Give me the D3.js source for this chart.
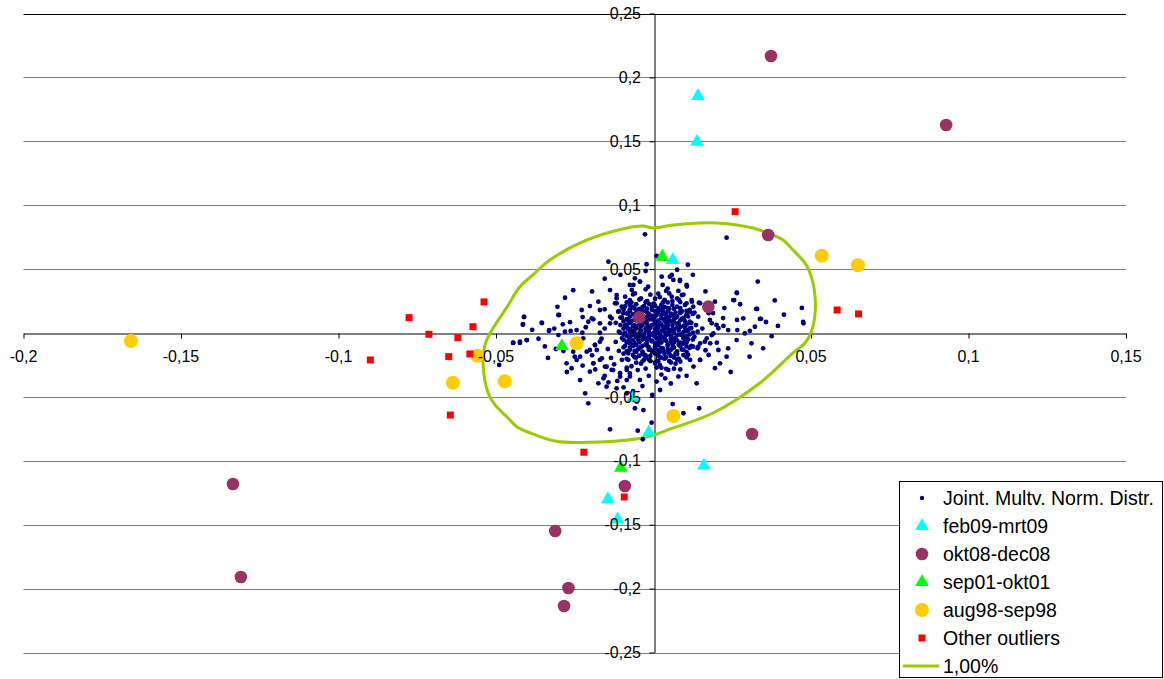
<!DOCTYPE html>
<meta charset="utf-8">
<style>
    body { margin: 0; background: #fff; }
    text { font-family: Arial, "Liberation Sans", sans-serif; font-size: 16px; fill: #000; }
    .legend text { font-size: 19.5px; }
</style>
<body>
<svg></svg>
<script src="https://d3js.org/d3.v7.min.js"></script>
<script>
    // axis ticks
    var xTicks = [-0.2, -0.15, -0.1, -0.05, 0, 0.05, 0.1, 0.15];
    var yTicks = [-0.25, -0.2, -0.15, -0.1, -0.05, 0, 0.05, 0.1, 0.15, 0.2, 0.25];

    var seriesNames = ["Joint. Multv. Norm. Distr.", "feb09-mrt09", "okt08-dec08", "sep01-okt01", "aug98-sep98", "Other outliers", "1,00%"];

    // simulated joint normal points
    var jointNormal = [
        [-0.0027,0.0772],[0.0232,0.0746],[0.001,0.0603],[-0.0022,0.0538],[-0.0143,0.0558],[0.0109,0.0534],[0.0034,0.0582],
        [-0.0138,0.0336],[-0.0064,0.0376],[-0.0043,0.0402],[-0.0017,0.0362],[0.0029,0.0376],[0.0052,0.0441],[0.0063,0.0415],
        [0.0084,0.0407],[0.0105,0.0376],[0.0079,0.0329],[0.004,0.0329],[0.0058,0.0284],[0.009,0.0297],[0.0121,0.0258],
        [0.0144,0.0237],[0.0126,0.0206],[0.0116,0.0167],[0.0331,0.0402],[0.0264,0.0315],[0.0253,0.0258],[0.0326,0.0188],
        [0.0414,0.0143],[0.0471,0.0196],[0.0338,0.011],[0.0476,0.0076],[-0.0281,0.0276],[-0.0202,0.0211],[-0.0228,0.018],
        [-0.0302,0.0141],[-0.0355,0.0081],[-0.0411,0.0128],[-0.0415,0.0065],[-0.0331,0.0023],[-0.0244,0.0023],[-0.0263,0.0016],
        [-0.0207,0.0088],[-0.0191,0.0107],[-0.017,0.018],[-0.0138,0.0076],[-0.0117,0.0232],[-0.0096,0.0193],[-0.0075,0.0258],
        [-0.0059,0.031],[-0.0117,0.0297],[-0.0112,0.0167],[-0.0133,0.0115],
        [0.0185,0.0076],[0.0206,0.0037],[0.0222,0.0055],[0.0237,0.0023],[0.0266,0.0023],[0.029,-0.0003],[0.0306,0.0016],
        [0.0322,0.0049],[0.019,-0.0003],[0.0201,-0.0076],[0.018,-0.0081],[0.0169,-0.0042],[0.0148,-0.0081],[0.0126,-0.0107],
        [0.0237,-0.012],[0.0264,-0.0055],[0.0311,-0.0081],[0.0348,-0.012],[0.0232,-0.0185],[0.0211,-0.0237],[0.0148,-0.0211],
        [0.0137,-0.0394],[0.0145,-0.0589],[0.0095,-0.0628],[0.0061,-0.0556],[0.0021,-0.0446],[-0.0004,-0.0485],[-0.0006,-0.0702],
        [-0.005,-0.0764],[-0.0138,-0.0754],[-0.0034,-0.0832],[-0.0207,-0.055],[-0.0217,-0.0472],[-0.0175,-0.0394],[-0.0143,-0.0386],
        [-0.0117,-0.0433],[-0.0085,-0.0472],[-0.0059,-0.0589],[-0.0032,-0.0603],[-0.0053,-0.0537],[-0.0085,-0.0368],[-0.0075,-0.0316],
        [-0.0106,-0.0342],[-0.0128,-0.029],[-0.0149,-0.0264],[-0.017,-0.0211],[-0.0191,-0.0237],[-0.0202,-0.0303],[-0.0233,-0.0185],
        [-0.0244,-0.0211],[-0.026,-0.0276],[-0.0276,-0.0237],[-0.0233,-0.0368],
        [-0.0445,-0.0076],[-0.0424,-0.0068],[-0.0403,-0.0055],[-0.0286,-0.0141],[-0.0302,-0.0016],[-0.0281,0.001],[-0.0223,-0.0042],
        [-0.0186,-0.0094],[-0.017,-0.0068],[-0.0255,-0.0146],[-0.025,-0.0185],[-0.0212,-0.0146],[-0.0202,-0.0133],
        [-0.0411,0.0125],[-0.0414,0.007],[-0.0354,0.0078],[-0.0332,0.0016],[-0.03,0.0141],[-0.0446,-0.0078],[-0.0424,-0.0078],
        [-0.0402,-0.0055],[-0.031,-0.0125],[-0.049,-0.025],[-0.0226,0.0002],[-0.017,0.0002],[-0.0288,0.0068],
        [0.0265,0.0313],[0.0256,0.0258],[0.0329,0.0188],[0.0341,0.011],[0.0357,0.0086],[0.0475,0.0086],[0.0265,0.0102],
        [0.0221,0.0117],[0.0189,0.0156],
        [-0.0043,0.0402],[0.0026,0.0441],[0.0058,0.0454],[0.0084,0.0415],[0.0106,0.0363],[0.0122,0.0245],[0.0148,0.0232],
        [0.0142,0.0128],[0.0179,0.0102],[0.02,0.0063],[0.0185,-0.0016],[0.0163,-0.0068],[0.0206,-0.0133],[0.0175,-0.0172],
        [0.0148,-0.0211],[0.0116,-0.0211],[0.0127,-0.0263],[0.0142,-0.0107],[0.0079,-0.0341],[0.0047,-0.0289],[0.0037,-0.0355],
        [0.001,-0.038],[-0.0043,-0.0367],[-0.0075,-0.0341],[-0.0085,-0.0289],[-0.0106,-0.0315],[-0.0133,-0.0289],[-0.0154,-0.0263],
        [-0.0164,-0.0198],[-0.018,-0.0133],[-0.0186,-0.0094],[-0.0191,-0.0237],[-0.0159,-0.0355],[-0.0149,-0.042],[-0.0196,0.0115],
        [-0.017,0.0076],[-0.0138,0.0128],[-0.0122,0.0232],[-0.0117,0.0271],[-0.009,0.0284],[-0.0069,0.0337],[-0.0075,0.0376],
        [-0.0101,0.0206],[-0.0096,0.0154],[-0.0059,0.0428],
        [-0.009,0.021],[-0.007,0.024],[-0.004,0.027],[-0.001,0.03],[0.002,0.028],[0.005,0.031],[0.008,0.026],[0.01,0.022],
        [-0.01,0.012],[-0.008,0.016],[-0.006,0.019],[-0.003,0.021],[0,0.023],[0.003,0.02],[0.006,0.022],[0.009,0.017],[0.011,0.013],
        [-0.009,0.006],[-0.007,0.009],[-0.005,0.013],[-0.002,0.016],[0.001,0.017],[0.004,0.014],[0.007,0.016],[0.01,0.009],[0.012,0.004],
        [-0.011,0.001],[-0.008,0.003],[-0.006,0.006],[-0.003,0.009],[0,0.011],[0.002,0.008],[0.005,0.01],[0.008,0.007],[0.011,0.002],
        [-0.01,-0.004],[-0.007,-0.002],[-0.004,0.002],[-0.001,0.004],[0.001,0.002],[0.003,0.005],[0.006,0.003],[0.009,-0.001],[0.013,-0.003],
        [-0.009,-0.01],[-0.006,-0.008],[-0.003,-0.004],[0,-0.002],[0.002,-0.005],[0.004,-0.001],[0.007,-0.004],[0.01,-0.007],
        [-0.008,-0.016],[-0.005,-0.013],[-0.002,-0.01],[0.001,-0.008],[0.003,-0.012],[0.006,-0.009],[0.009,-0.013],[0.012,-0.01],
        [-0.01,-0.021],[-0.006,-0.019],[-0.003,-0.017],[0,-0.015],[0.002,-0.019],[0.005,-0.016],[0.008,-0.02],[0.011,-0.017],
        [-0.007,-0.026],[-0.004,-0.024],[-0.001,-0.022],[0.002,-0.025],[0.004,-0.028],[0.007,-0.024],
        [-0.005,0.017],[-0.002,0.019],[0.001,0.014],[0.003,0.017],[0.005,0.019],[-0.004,0.005],[-0.002,0.007],[0.001,0.006],
        [0.004,0.008],[0.006,0.006],[-0.006,0],[-0.003,-0.001],[0,0],[0.002,-0.001],[0.005,0.001],[0.008,0.002],[-0.005,-0.005],
        [-0.002,-0.007],[0.001,-0.004],[0.004,-0.006],[0.006,-0.012],[-0.004,-0.011],[-0.001,-0.013],[0.002,-0.015],[0.004,-0.019],
        [-0.006,-0.014],[-0.008,-0.006],[-0.009,0],[0.007,0.012],[0.009,0.011],[0.006,0.025],[0.003,0.024],[-0.002,0.025],
        [-0.006,0.011],[-0.008,0.01],[0.01,0.004],[0.011,-0.005],[0.008,-0.009],[0.007,-0.016],[-0.001,-0.018],[-0.003,-0.021],
        [0.001,-0.027],[-0.005,-0.029],[0.005,-0.022],[-0.008,-0.021],[0.012,0.008],[0.013,0.016],[0.014,0.001],[0.014,-0.012],
        [-0.012,0.008],[-0.012,-0.007],[-0.011,-0.014],[-0.011,0.017],
        [-0.0055,0.0035],[-0.0035,0.0065],[-0.0015,0.0025],[0.0005,0.0085],[0.0025,0.0115],[0.0045,0.0035],[0.0065,0.0085],
        [-0.0045,-0.0025],[-0.0025,-0.0045],[-0.0005,-0.0065],[0.0015,-0.0095],[0.0035,-0.0035],[0.0055,-0.0065],[0.0075,-0.0015],
        [-0.0065,0.0145],[-0.0045,0.0105],[-0.0025,0.0125],[-0.0005,0.0135],[0.0015,0.0195],[0.0035,0.0095],[0.0055,0.0135],
        [0.0075,0.0045],[0.0095,0.0055],[-0.0075,-0.0115],[-0.0055,-0.0095],[-0.0035,-0.0145],[-0.0015,-0.0025],[0.0005,-0.0115],
        [0.0025,-0.0075],[0.0045,-0.0135],[0.0065,-0.0045],[0.0085,-0.0075],[-0.0065,0.0055],[-0.0085,0.0065],[0.0015,0.0045],
        [-0.0015,0.0105],[0.0035,0.0155],[-0.0035,0.0175],[0.0005,0.0215],[-0.0055,0.0225],[0.0025,-0.0135],[-0.0025,-0.0175],
        [0.0045,0.0195],[0.0085,0.0195],[0.0105,0.0145],[-0.0095,0.0035],[0.0095,-0.0035],[0.0105,-0.0105],[-0.0075,0.0185],
        [0.0065,-0.0185],
        [-0.0045,0.0262],[0.0005,0.0268],[0.0035,0.0259],[0.0075,0.0271],[-0.0075,0.0221],[-0.0015,0.0228],[0.0025,0.0219],
        [0.0105,0.0232],[-0.0095,0.0182],[-0.0045,0.0189],[-0.0005,0.0181],[0.0025,0.0178],[0.0065,0.0188],[0.0115,0.0181],
        [-0.0085,0.0152],[-0.0055,0.0158],[-0.0015,0.0149],[0.0015,0.0161],[0.0055,0.0152],[0.0085,0.0156],[0.0125,0.0149],
        [-0.0105,0.0121],[-0.0075,0.0128],[-0.0035,0.0119],[0.0005,0.0127],[0.0045,0.0122],[0.0075,0.0129],[0.0095,0.0118],
        [-0.0095,0.0092],[-0.0055,0.0098],[-0.0025,0.0089],[0.0015,0.0096],[0.0055,0.0091],[0.0085,0.0099],[0.0115,0.0088],
        [-0.0105,0.0062],[-0.0045,0.0068],[-0.0005,0.0061],[0.0025,0.0067],[0.0045,0.0059],[0.0105,0.0066],[0.0135,0.0062],
        [-0.0075,0.0032],[-0.0025,0.0038],[0.0005,0.0031],[0.0035,0.0037],[0.0065,0.0029],[0.0115,0.0036],
        [-0.0105,0.0002],[-0.0075,0.0008],[-0.0045,-0.0001],[-0.0015,0.0007],[0.0015,0.0001],[0.0035,0.0009],[0.0065,-0.0002],
        [0.0095,0.0006],[0.0125,0.0003],[-0.0085,-0.0022],[-0.0055,-0.0028],[0.0005,-0.0021],[0.0025,-0.0029],[0.0055,-0.0024],
        [0.0105,-0.0027],[-0.0095,-0.0052],[-0.0065,-0.0058],[-0.0035,-0.0051],[-0.0005,-0.0059],[0.0035,-0.0053],[0.0075,-0.0057],
        [0.0125,-0.0051],[-0.0075,-0.0082],[-0.0025,-0.0088],[0.0005,-0.0081],[0.0045,-0.0089],[0.0095,-0.0083],
        [-0.0095,-0.0112],[-0.0045,-0.0118],[-0.0015,-0.0111],[0.0025,-0.0119],[0.0065,-0.0113],[0.0115,-0.0117],
        [-0.0085,-0.0142],[-0.0055,-0.0148],[-0.0005,-0.0141],[0.0035,-0.0149],[0.0075,-0.0143],[0.0105,-0.0147],
        [-0.0065,-0.0172],[-0.0045,-0.0178],[0.0015,-0.0171],[0.0055,-0.0179],[0.0095,-0.0173],
        [-0.0085,-0.0202],[-0.0015,-0.0208],[0.0035,-0.0201],[0.0075,-0.0209],[-0.0055,-0.0232],[0.0005,-0.0238],[0.0055,-0.0231],
        [-0.0085,-0.0272],[-0.0025,-0.0278],[0.0025,-0.0271],[0.0065,-0.0279],[-0.0065,0.0302],[0.0015,0.0308],[0.0095,0.0301],
        [-0.0025,0.0342],[0.0045,0.0348],
        [-0.0215,0.0045],[-0.0245,-0.0075],[-0.0195,-0.0175],[-0.0165,-0.0045],[-0.0155,0.0035],[-0.0145,-0.0125],[-0.0225,0.0125],
        [-0.0265,0.0085],[-0.0175,0.0245],[-0.0155,0.0185],[-0.0135,-0.0195],[-0.0125,-0.0245],[-0.0185,-0.0285],[-0.0225,-0.0255],
        [-0.0155,-0.0335],[-0.0115,-0.0375],[-0.0095,-0.0425],[-0.0065,-0.0455],[-0.0035,-0.0415],[-0.0015,-0.0335],[0.0025,-0.0325],
        [0.0055,-0.0395],[0.0085,-0.0285],[0.0105,-0.0335],[-0.0335,-0.0195],[-0.0365,-0.0045],[-0.0305,0.0205],[-0.0255,0.0335],
        [-0.0195,0.0325],[-0.0155,0.0425],[-0.0105,0.0455],[-0.0025,0.0485],[0.0075,0.0495],[0.0125,0.0455],[0.0165,0.0325],
        [0.0195,0.0245],[0.0225,0.0195],[0.0175,0.0155],[0.0155,0.0035],[0.0165,-0.0135],[0.0195,-0.0275],[0.0245,-0.0305],
        [0.0285,0.0115],[0.0305,-0.0185],[0.0375,-0.0025],[0.0395,0.0055],[0.0275,0.0225],[0.0385,0.0255],[-0.0385,0.0025],
        [-0.0345,-0.0105],[-0.0275,-0.0305],[-0.0315,0.0035],
        [-0.0065,0.0205],[-0.0035,0.0203],[-0.0005,0.0207],[0.0035,0.0204],[0.0075,0.0206],[-0.0075,0.017],[-0.0025,0.0172],
        [0.0005,0.0168],[0.0045,0.0171],[0.0085,0.0169],[0.0105,0.0172],[-0.0045,0.0138],[-0.0015,0.0136],[0.0025,0.0139],
        [0.0065,0.0137],[0.0105,0.0139],[-0.0085,0.0108],[-0.0005,0.0106],[0.0035,0.0109],[0.0065,0.0107],[0.0095,0.0108],
        [-0.0075,0.0078],[-0.0035,0.0077],[0.0005,0.0079],[0.0045,0.0078],[0.0075,0.0076],[0.0115,0.0079],[-0.0085,0.0048],
        [-0.0055,0.0047],[-0.0015,0.0049],[0.0035,0.0048],[0.0085,0.0046],[-0.0065,0.0018],[-0.0025,0.0017],[0.0025,0.0019],
        [0.0055,0.0018],[0.0105,0.0016],[-0.0095,-0.0012],[-0.0035,-0.0013],[-0.0005,-0.0011],[0.0045,-0.0012],[0.0085,-0.0013],
        [0.0115,-0.0011],[-0.0075,-0.0042],[-0.0015,-0.0043],[0.0015,-0.0041],[0.0055,-0.0042],[0.0095,-0.0044],[-0.0085,-0.0072],
        [-0.0045,-0.0073],[0.0015,-0.0071],[0.0065,-0.0072],[0.0105,-0.0074],[-0.0065,-0.0102],[-0.0035,-0.0101],[0.0005,-0.0103],
        [0.0045,-0.0102],[0.0085,-0.0104],[-0.0075,-0.0132],[-0.0015,-0.0131],[0.0015,-0.0133],[0.0055,-0.0132],[0.0095,-0.0131],
        [-0.0095,-0.0162],[-0.0035,-0.0163],[0.0005,-0.0161],[0.0035,-0.0162],[0.0075,-0.0164],[-0.0055,-0.0192],[-0.0025,-0.0191],
        [0.0025,-0.0193],[0.0065,-0.0192],[0.0105,-0.0191],[-0.0035,-0.0222],[0.0015,-0.0221],[0.0085,-0.0223],[-0.0085,0.024],
        [-0.0025,0.0241],[0.0045,0.0239],[0.0085,0.0242]
    ];

    var feb09mrt09 = [[0.0141,0.1854],[0.0138,0.1495],[0.0061,0.0571],[-0.0065,-0.0509],[-0.0015,-0.078],
        [0.016,-0.1038],[-0.0145,-0.1301],[-0.0114,-0.1458]];
    var okt08dec08 = [[0.0373,0.2167],[0.0929,0.1628],[0.0364,0.0767],[0.0174,0.0206],[-0.0045,0.0123],[0.0313,-0.079],
        [-0.0091,-0.1197],[-0.0312,-0.1549],[-0.027,-0.1995],[-0.0284,-0.2136],[-0.1335,-0.1182],[-0.131,-0.1909]];
    var sep01okt01 = [[0.0028,0.0597],[-0.0291,-0.0102],[-0.0104,-0.1054]];
    var aug98sep98 = [[-0.1659,-0.0063],[-0.0637,-0.0389],[-0.0472,-0.0378],[-0.0559,-0.0178],[-0.0244,-0.0081],
        [0.0063,-0.0649],[0.0534,0.0605],[0.0649,0.053]];
    var otherOutliers = [[0.0259,0.0949],[-0.0538,0.0243],[-0.0776,0.012],[-0.0573,0.0049],[-0.0713,-0.001],[-0.0621,-0.0037],
        [-0.0899,-0.0211],[-0.065,-0.0185],[-0.0583,-0.0164],[-0.0645,-0.0642],[-0.0221,-0.0933],[-0.0093,-0.1283],
        [0.0583,0.018],[0.0651,0.0149]];

    // 1% contour
    var contour1pct = [[-0.0541,-0.0235],[-0.0535,-0.0094],[-0.0513,0.0023],[-0.0465,0.0203],[-0.0425,0.036],[-0.0383,0.0454],
        [-0.0329,0.0571],[-0.0211,0.0728],[-0.0084,0.0822],[-0.0033,0.0837],[-0.0002,0.0822],[0.0062,0.0845],[0.0148,0.0861],
        [0.0202,0.0861],[0.0316,0.0822],[0.0363,0.0782],[0.0411,0.0728],[0.0443,0.0649],[0.0487,0.0524],[0.0513,0.0282],
        [0.0503,0.0023],[0.0481,-0.0078],[0.0443,-0.0156],[0.0338,-0.0391],[0.0189,-0.0626],[0.0062,-0.0743],[-0.0021,-0.0814],
        [-0.017,-0.0853],[-0.0313,-0.0845],[-0.0383,-0.079],[-0.0433,-0.0736],[-0.0465,-0.0657],[-0.0503,-0.0563],[-0.0525,-0.0469]];

    var width = 1164, height = 679;

    var svg = d3.select("svg")
        .attr("width", width)
        .attr("height", height);

    var x = d3.scaleLinear().domain([-0.2, 0.15]).range([23.5, 1126]);
    var y = d3.scaleLinear().domain([-0.25, 0.25]).range([652.5, 13.5]);

    var fmt = function (d) { return String(d).replace(".", ","); };
    var snap = function (v) { return Math.round(v) + 0.5; };

    // gridlines
    svg.append("g")
        .selectAll("line")
        .data(yTicks.filter(function (d) { return d !== 0; }))
        .enter().append("line")
        .attr("x1", x(-0.2)).attr("x2", x(0.15))
        .attr("y1", function (d) { return snap(y(d)); })
        .attr("y2", function (d) { return snap(y(d)); })
        .style("stroke", function (d) { return d === 0.25 ? "#000" : "#808080"; });

    // axis lines and ticks (labels are drawn after the marks)
    var xAxis = svg.append("g")
        .attr("transform", "translate(0," + snap(y(0)) + ")")
        .call(d3.axisBottom(x).tickValues(xTicks).tickSize(5).tickSizeOuter(0).tickFormat(""));
    var yAxis = svg.append("g")
        .attr("transform", "translate(" + snap(x(0)) + ",0)")
        .call(d3.axisLeft(y).tickValues(yTicks).tickSize(5).tickSizeOuter(0).tickFormat(""));
    [xAxis, yAxis].forEach(function (g) {
        g.selectAll("path, line").style("stroke", "#000");
    });

    // contour line
    svg.append("path")
        .datum(contour1pct)
        .attr("d", d3.line()
            .x(function (d) { return x(d[0]); })
            .y(function (d) { return y(d[1]); })
            .curve(d3.curveCatmullRomClosed))
        .style("fill", "none")
        .style("stroke", "#99CC00")
        .style("stroke-width", 3);

    function px(d) { return x(d[0]); }
    function py(d) { return y(d[1]); }

    svg.append("g").selectAll("circle")
        .data(jointNormal)
        .enter().append("circle")
        .attr("cx", px).attr("cy", py).attr("r", 2.4)
        .style("fill", "#000080");

    var tri = d3.symbol().type(d3.symbolTriangle).size(80);

    svg.append("g").selectAll("path")
        .data(feb09mrt09)
        .enter().append("path")
        .attr("d", tri)
        .attr("transform", function (d) { return "translate(" + px(d) + "," + py(d) + ")"; })
        .style("fill", "#00FFFF");

    svg.append("g").selectAll("circle")
        .data(okt08dec08)
        .enter().append("circle")
        .attr("cx", px).attr("cy", py).attr("r", 6.3)
        .style("fill", "#993366");

    svg.append("g").selectAll("path")
        .data(sep01okt01)
        .enter().append("path")
        .attr("d", tri)
        .attr("transform", function (d) { return "translate(" + px(d) + "," + py(d) + ")"; })
        .style("fill", "#00FF00");

    svg.append("g").selectAll("circle")
        .data(aug98sep98)
        .enter().append("circle")
        .attr("cx", px).attr("cy", py).attr("r", 7)
        .style("fill", "#FFCC00");

    svg.append("g").selectAll("rect")
        .data(otherOutliers)
        .enter().append("rect")
        .attr("x", function (d) { return px(d) - 3.5; })
        .attr("y", function (d) { return py(d) - 3.5; })
        .attr("width", 7).attr("height", 7)
        .style("fill", "#FF0000");

    // tick labels, on top of the marks
    svg.append("g").selectAll("text")
        .data(xTicks)
        .enter().append("text")
        .attr("x", function (d) { return x(d); })
        .attr("y", 362)
        .attr("text-anchor", "middle")
        .text(fmt);

    svg.append("g").selectAll("text")
        .data(yTicks)
        .enter().append("text")
        .attr("x", x(0) - 12.5)
        .attr("y", function (d) { return y(d); })
        .attr("dy", "0.35em")
        .attr("text-anchor", "end")
        .text(fmt);

    // legend
    var legend = svg.append("g").attr("class", "legend").attr("transform", "translate(899.5,481.5)");
    legend.append("rect")
        .attr("width", 263).attr("height", 196)
        .style("fill", "#fff").style("stroke", "#000");

    var items = legend.selectAll(".item")
        .data(seriesNames)
        .enter().append("g")
        .attr("transform", function (d, i) { return "translate(0," + (16.5 + i * 28) + ")"; });

    items.append("text")
        .attr("x", 43.5).attr("dy", "0.35em")
        .text(function (d) { return d; });

    items.each(function (d, i) {
        var g = d3.select(this);
        if (i === 0) g.append("circle").attr("cx", 22.5).attr("r", 2.2).style("fill", "#000080");
        if (i === 1) g.append("path").attr("d", tri).attr("transform", "translate(22.5,0)").style("fill", "#00FFFF");
        if (i === 2) g.append("circle").attr("cx", 22.5).attr("r", 6.3).style("fill", "#993366");
        if (i === 3) g.append("path").attr("d", tri).attr("transform", "translate(22.5,0)").style("fill", "#00FF00");
        if (i === 4) g.append("circle").attr("cx", 22.5).attr("r", 7).style("fill", "#FFCC00");
        if (i === 5) g.append("rect").attr("x", 19).attr("y", -3.5).attr("width", 7).attr("height", 7).style("fill", "#FF0000");
        if (i === 6) g.append("line").attr("x1", 3.5).attr("x2", 39.5).style("stroke", "#99CC00").style("stroke-width", 3);
    });
</script>
</body>
